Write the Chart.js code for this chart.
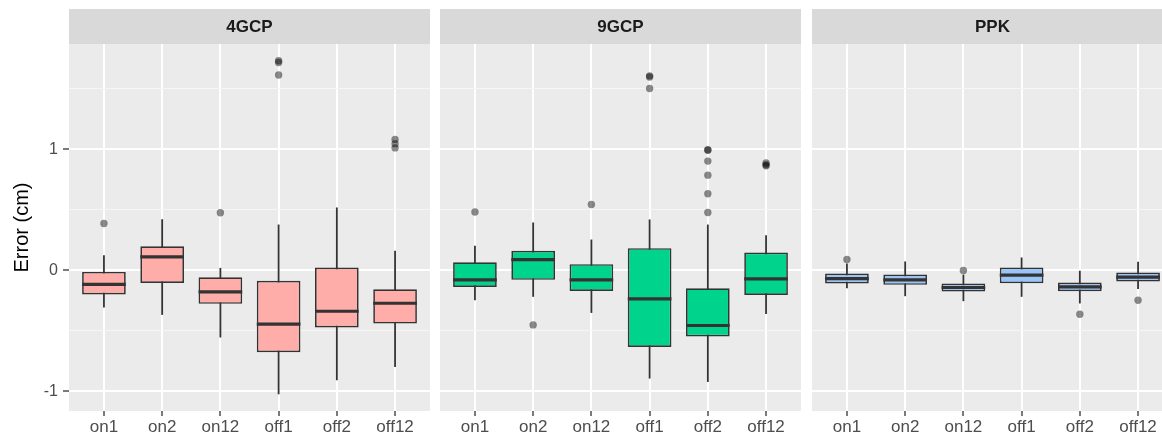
<!DOCTYPE html>
<html lang="en">
<head>
  <meta charset="UTF-8">
  <title>Error by flight</title>
  <script src="https://cdn.jsdelivr.net/npm/chart.js"></script>
  <style>
    body { margin: 0; width: 1162px; height: 439px; overflow: hidden; background: #fff; position: relative; }
    canvas { position: absolute; top: 0; }
  </style>
</head>
<body>
  <canvas id="p1" width="430" height="439" style="left:0px"></canvas>
  <canvas id="p2" width="361" height="439" style="left:440px"></canvas>
  <canvas id="p3" width="361" height="439" style="left:812px"></canvas>

  <script>
    const categories = ['on1', 'on2', 'on12', 'off1', 'off2', 'off12'];
    const panelNames = ['4GCP', '9GCP', 'PPK'];
    const yTicks = [-1, -0.5, 0, 0.5, 1, 1.5];

    // 4GCP
    const gcp4Low  = [-0.309, -0.369, -0.556, -1.025, -0.909, -0.799];
    const gcp4Q1   = [-0.201, -0.105, -0.278, -0.678, -0.474, -0.441];
    const gcp4Med  = [-0.118,  0.110, -0.179, -0.446, -0.339, -0.273];
    const gcp4Q3   = [-0.014,  0.198, -0.058, -0.088,  0.022, -0.157];
    const gcp4High = [ 0.124,  0.421,  0.019,  0.377,  0.518,  0.160];
    const gcp4Out  = [[0.386], [], [0.474], [1.73, 1.715, 1.612], [], [1.08, 1.045, 1.01]];

    // 9GCP
    const gcp9Low  = [-0.248, -0.220, -0.353, -0.895, -0.923, -0.361];
    const gcp9Q1   = [-0.138, -0.080, -0.171, -0.634, -0.548, -0.204];
    const gcp9Med  = [-0.080,  0.088, -0.080, -0.237, -0.457, -0.072];
    const gcp9Q3   = [ 0.066,  0.160,  0.050,  0.182, -0.149,  0.146];
    const gcp9High = [ 0.201,  0.394,  0.253,  0.419,  0.377,  0.289];
    const gcp9Out  = [[0.48], [-0.452], [0.543], [1.605, 1.595, 1.501], [0.995, 0.99, 0.901, 0.785, 0.631, 0.477], [0.885, 0.87, 0.862]];

    // PPK
    const ppkLow  = [-0.149, -0.215, -0.256, -0.220, -0.275, -0.155];
    const ppkQ1   = [-0.110, -0.121, -0.176, -0.107, -0.174, -0.094];
    const ppkMed  = [-0.069, -0.080, -0.143, -0.041, -0.138, -0.058];
    const ppkQ3   = [-0.028, -0.036, -0.110,  0.022, -0.102, -0.019];
    const ppkHigh = [ 0.055,  0.072, -0.036,  0.105, -0.005,  0.069];
    const ppkOut  = [[0.088], [], [-0.003], [], [-0.364], [-0.248]];

    Chart.defaults.font.family = "'Liberation Sans', Arial, sans-serif";

    // panel background + grey strip with the facet name
    const stripPlugin = {
      id: 'strip',
      beforeDraw(chart, args, opts) {
        const { ctx, chartArea: a } = chart;
        ctx.save();
        ctx.fillStyle = '#EBEBEB';
        ctx.fillRect(a.left, a.top, a.right - a.left, a.bottom - a.top);
        ctx.fillStyle = '#D9D9D9';
        ctx.fillRect(a.left, 9, a.right - a.left, a.top - 9);
        ctx.fillStyle = '#1A1A1A';
        ctx.font = "bold 17px 'Liberation Sans', Arial, sans-serif";
        ctx.textAlign = 'center';
        ctx.textBaseline = 'middle';
        ctx.fillText(opts.text, (a.left + a.right) / 2, (9 + a.top) / 2 + 1);
        ctx.restore();
      }
    };

    function makePanel(id, name, fill, low, q1, med, q3, high, out, showY) {
      const boxes = categories.map((c, i) => ({ x: i + 1, y: [q1[i], q3[i]] }));
      const whiskers = categories.map((c, i) => ({ x: i + 1, y: [low[i], high[i]] }));
      const medians = categories.map((c, i) => ({ x: i + 1, y: med[i] }));
      const outliers = [];
      out.forEach((vals, i) => vals.forEach(v => outliers.push({ x: i + 1, y: v })));

      return new Chart(document.getElementById(id), {
        type: 'bar',
        data: {
          datasets: [
            {
              type: 'scatter',
              data: outliers,
              pointRadius: 3.7,
              pointBackgroundColor: 'rgba(0,0,0,0.45)',
              pointBorderWidth: 0,
              order: 0
            },
            {
              type: 'scatter',
              data: medians,
              pointStyle: 'line',
              pointRadius: ctx => {
                const s = ctx.chart.scales.x;
                return s.getPixelForValue(1.375) - s.getPixelForValue(1);
              },
              pointBorderColor: '#333333',
              pointBorderWidth: 3.2,
              order: 1
            },
            {
              data: boxes,
              backgroundColor: fill,
              borderColor: '#333333',
              borderWidth: 1.7,
              borderSkipped: false,
              grouped: false,
              barPercentage: 0.75,
              categoryPercentage: 1,
              order: 2
            },
            {
              data: whiskers,
              backgroundColor: '#333333',
              borderWidth: 0,
              grouped: false,
              barPercentage: 0.2,
              categoryPercentage: 1,
              maxBarThickness: 1.8,
              order: 3
            }
          ]
        },
        options: {
          responsive: false,
          animation: false,
          events: [],
          layout: { autoPadding: false, padding: { top: 44, left: 0, right: 0, bottom: 0 } },
          plugins: {
            legend: { display: false },
            tooltip: { enabled: false },
            strip: { text: name }
          },
          scales: {
            x: {
              type: 'linear',
              min: 0.4,
              max: 6.6,
              offset: false,
              afterBuildTicks: s => { s.ticks = categories.map((c, i) => ({ value: i + 1 })); },
              afterFit: s => { s.height = 28; },
              ticks: {
                callback: v => categories[v - 1],
                color: '#4D4D4D',
                font: { size: 17 },
                padding: 1,
                maxRotation: 0,
                autoSkip: false
              },
              grid: {
                offset: false,
                color: '#FFFFFF',
                lineWidth: 2,
                tickColor: '#333333',
                tickLength: 5,
                tickWidth: 1.3
              },
              border: { display: false }
            },
            y: {
              type: 'linear',
              min: -1.163,
              max: 1.868,
              beginAtZero: false,
              afterBuildTicks: s => { s.ticks = yTicks.map(v => ({ value: v })); },
              afterFit: s => { s.width = showY ? 69 : 0; },
              ticks: {
                display: showY,
                callback: v => Number.isInteger(v) ? String(v) : '',
                color: '#4D4D4D',
                font: { size: 16 },
                padding: 5
              },
              grid: {
                color: c => Number.isInteger(c.tick.value) ? '#FFFFFF' : '#F6F6F6',
                lineWidth: c => Number.isInteger(c.tick.value) ? 2 : 1,
                drawTicks: showY,
                tickColor: c => Number.isInteger(c.tick.value) ? '#333333' : 'rgba(0,0,0,0)',
                tickLength: 6,
                tickWidth: 1.3
              },
              border: { display: false },
              title: {
                display: showY,
                text: 'Error (cm)',
                color: '#000000',
                font: { size: 20 },
                padding: { top: 10, bottom: 0 }
              }
            }
          }
        },
        plugins: [stripPlugin]
      });
    }

    makePanel('p1', panelNames[0], '#FFADA8', gcp4Low, gcp4Q1, gcp4Med, gcp4Q3, gcp4High, gcp4Out, true);
    makePanel('p2', panelNames[1], '#00D48C', gcp9Low, gcp9Q1, gcp9Med, gcp9Q3, gcp9High, gcp9Out, false);
    makePanel('p3', panelNames[2], '#99C4FA', ppkLow, ppkQ1, ppkMed, ppkQ3, ppkHigh, ppkOut, false);
  </script>
</body>
</html>
